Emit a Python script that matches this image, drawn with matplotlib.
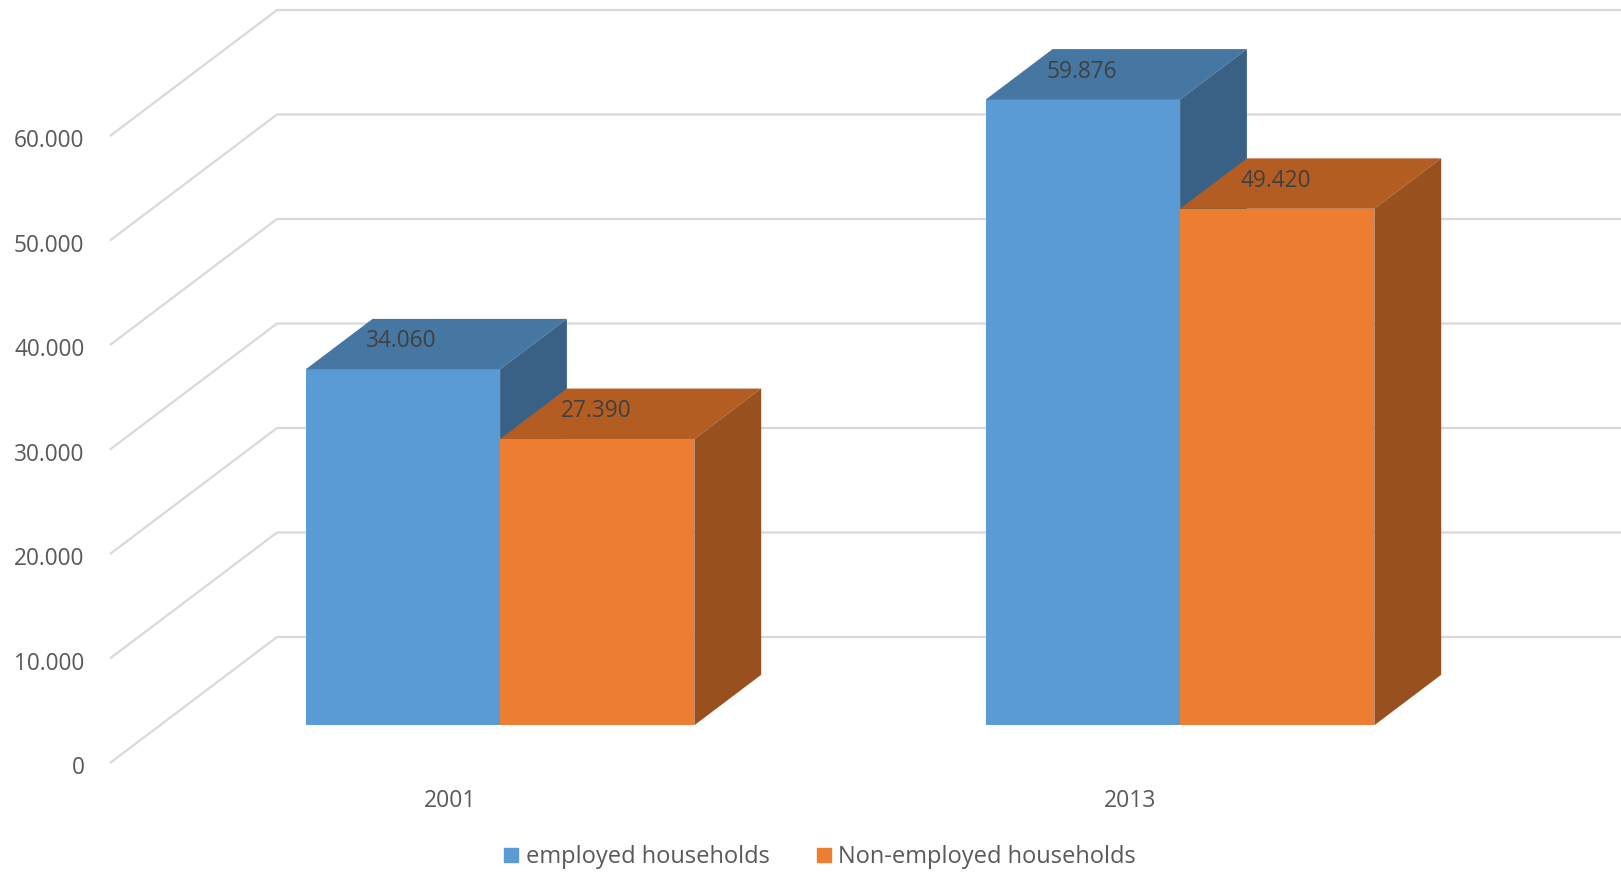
import matplotlib
matplotlib.use("Agg")
import matplotlib.pyplot as plt
from matplotlib.patches import Polygon, Rectangle
from matplotlib.lines import Line2D

years = ['2001', '2013']
employed = [34060, 59876]
non_employed = [27390, 49420]
series_names = ['employed households', 'Non-employed households']
yticks = [0, 10000, 20000, 30000, 40000, 50000, 60000]

front_cols = ['#5B9BD5', '#ED7D31']
top_cols = ['#4676A2', '#B45D22']
side_cols = ['#386185', '#99501F']
grid_col = '#D9D9D9'

plt.rcParams['font.family'] = ['Open Sans', 'DejaVu Sans']


def fmt(v):
    return f"{v:,}".replace(',', '.')


W, H = 1621, 873
fig = plt.figure(figsize=(W / 100, H / 100), dpi=100)
ax = fig.add_axes([0, 0, 1, 1])
ax.axis('off')

# layout of the fake 3d box in pixels
cat_px = 680.0
left_px = 110.0
zero_px = 763.0
px_per_val = 104.5 / 10000
ax.set_xlim(-0.5 - left_px / cat_px, -0.5 + (W - left_px) / cat_px)
ax.set_ylim(-(H - zero_px) / px_per_val, zero_px / px_per_val)

# depth vector (full depth of the box) in data units
DX = 167 / cat_px
DY = 126 / px_per_val
x_left = -0.5
x_right = ax.get_xlim()[1] + 0.1

# gridlines: side wall diagonal + back wall horizontal
for v in yticks:
    ax.plot([x_left, x_left + DX, x_right], [v, v + DY, v + DY],
            color=grid_col, lw=1.6, zorder=1, solid_capstyle='butt')
    ax.annotate(fmt(v), (x_left, v), xytext=(-18.5, -8), textcoords='offset points',
                ha='right', va='baseline', fontsize=16.3, color='#595959')

# bars
gap = 1.5
w = 1 / (2 + gap)
f0 = 0.3   # depth position of bar front
bd = 0.4   # bar depth
for s, vals in enumerate([employed, non_employed]):
    for i, v in enumerate(vals):
        x0 = i - w + s * w + f0 * DX
        y0 = f0 * DY
        ax.add_patch(Rectangle((x0, y0), w, v, facecolor=front_cols[s],
                               edgecolor='none', zorder=2 + s))
        top = [(x0, y0 + v), (x0 + w, y0 + v),
               (x0 + w + bd * DX, y0 + v + bd * DY), (x0 + bd * DX, y0 + v + bd * DY)]
        ax.add_patch(Polygon(top, closed=True, facecolor=top_cols[s],
                             edgecolor='none', zorder=2 + s))
        side = [(x0 + w, y0), (x0 + w, y0 + v),
                (x0 + w + bd * DX, y0 + v + bd * DY), (x0 + w + bd * DX, y0 + bd * DY)]
        ax.add_patch(Polygon(side, closed=True, facecolor=side_cols[s],
                             edgecolor='none', zorder=2 + s))
        ax.annotate(fmt(v), (x0 + w / 2, y0 + v), xytext=(-1, 15.8),
                    textcoords='offset points', ha='center', va='baseline',
                    fontsize=16.3, color='#404040', zorder=5)

# category labels
for i, yr in enumerate(years):
    ax.annotate(yr, (i, 0), xytext=(0, -31.7), textcoords='offset points',
                ha='center', va='baseline', fontsize=16.5, color='#595959')

handles = [Line2D([], [], marker='s', linestyle='none', markersize=9.5,
                  markerfacecolor=c, markeredgecolor=c) for c in front_cols]
fig.legend(handles, series_names, loc='center', bbox_to_anchor=(820 / W, 1 - 857 / H),
           ncol=2, frameon=False, fontsize=17, labelcolor='#595959',
           handletextpad=0.3, columnspacing=2.0, handlelength=0.6)

fig.savefig('out.png', dpi=100)
